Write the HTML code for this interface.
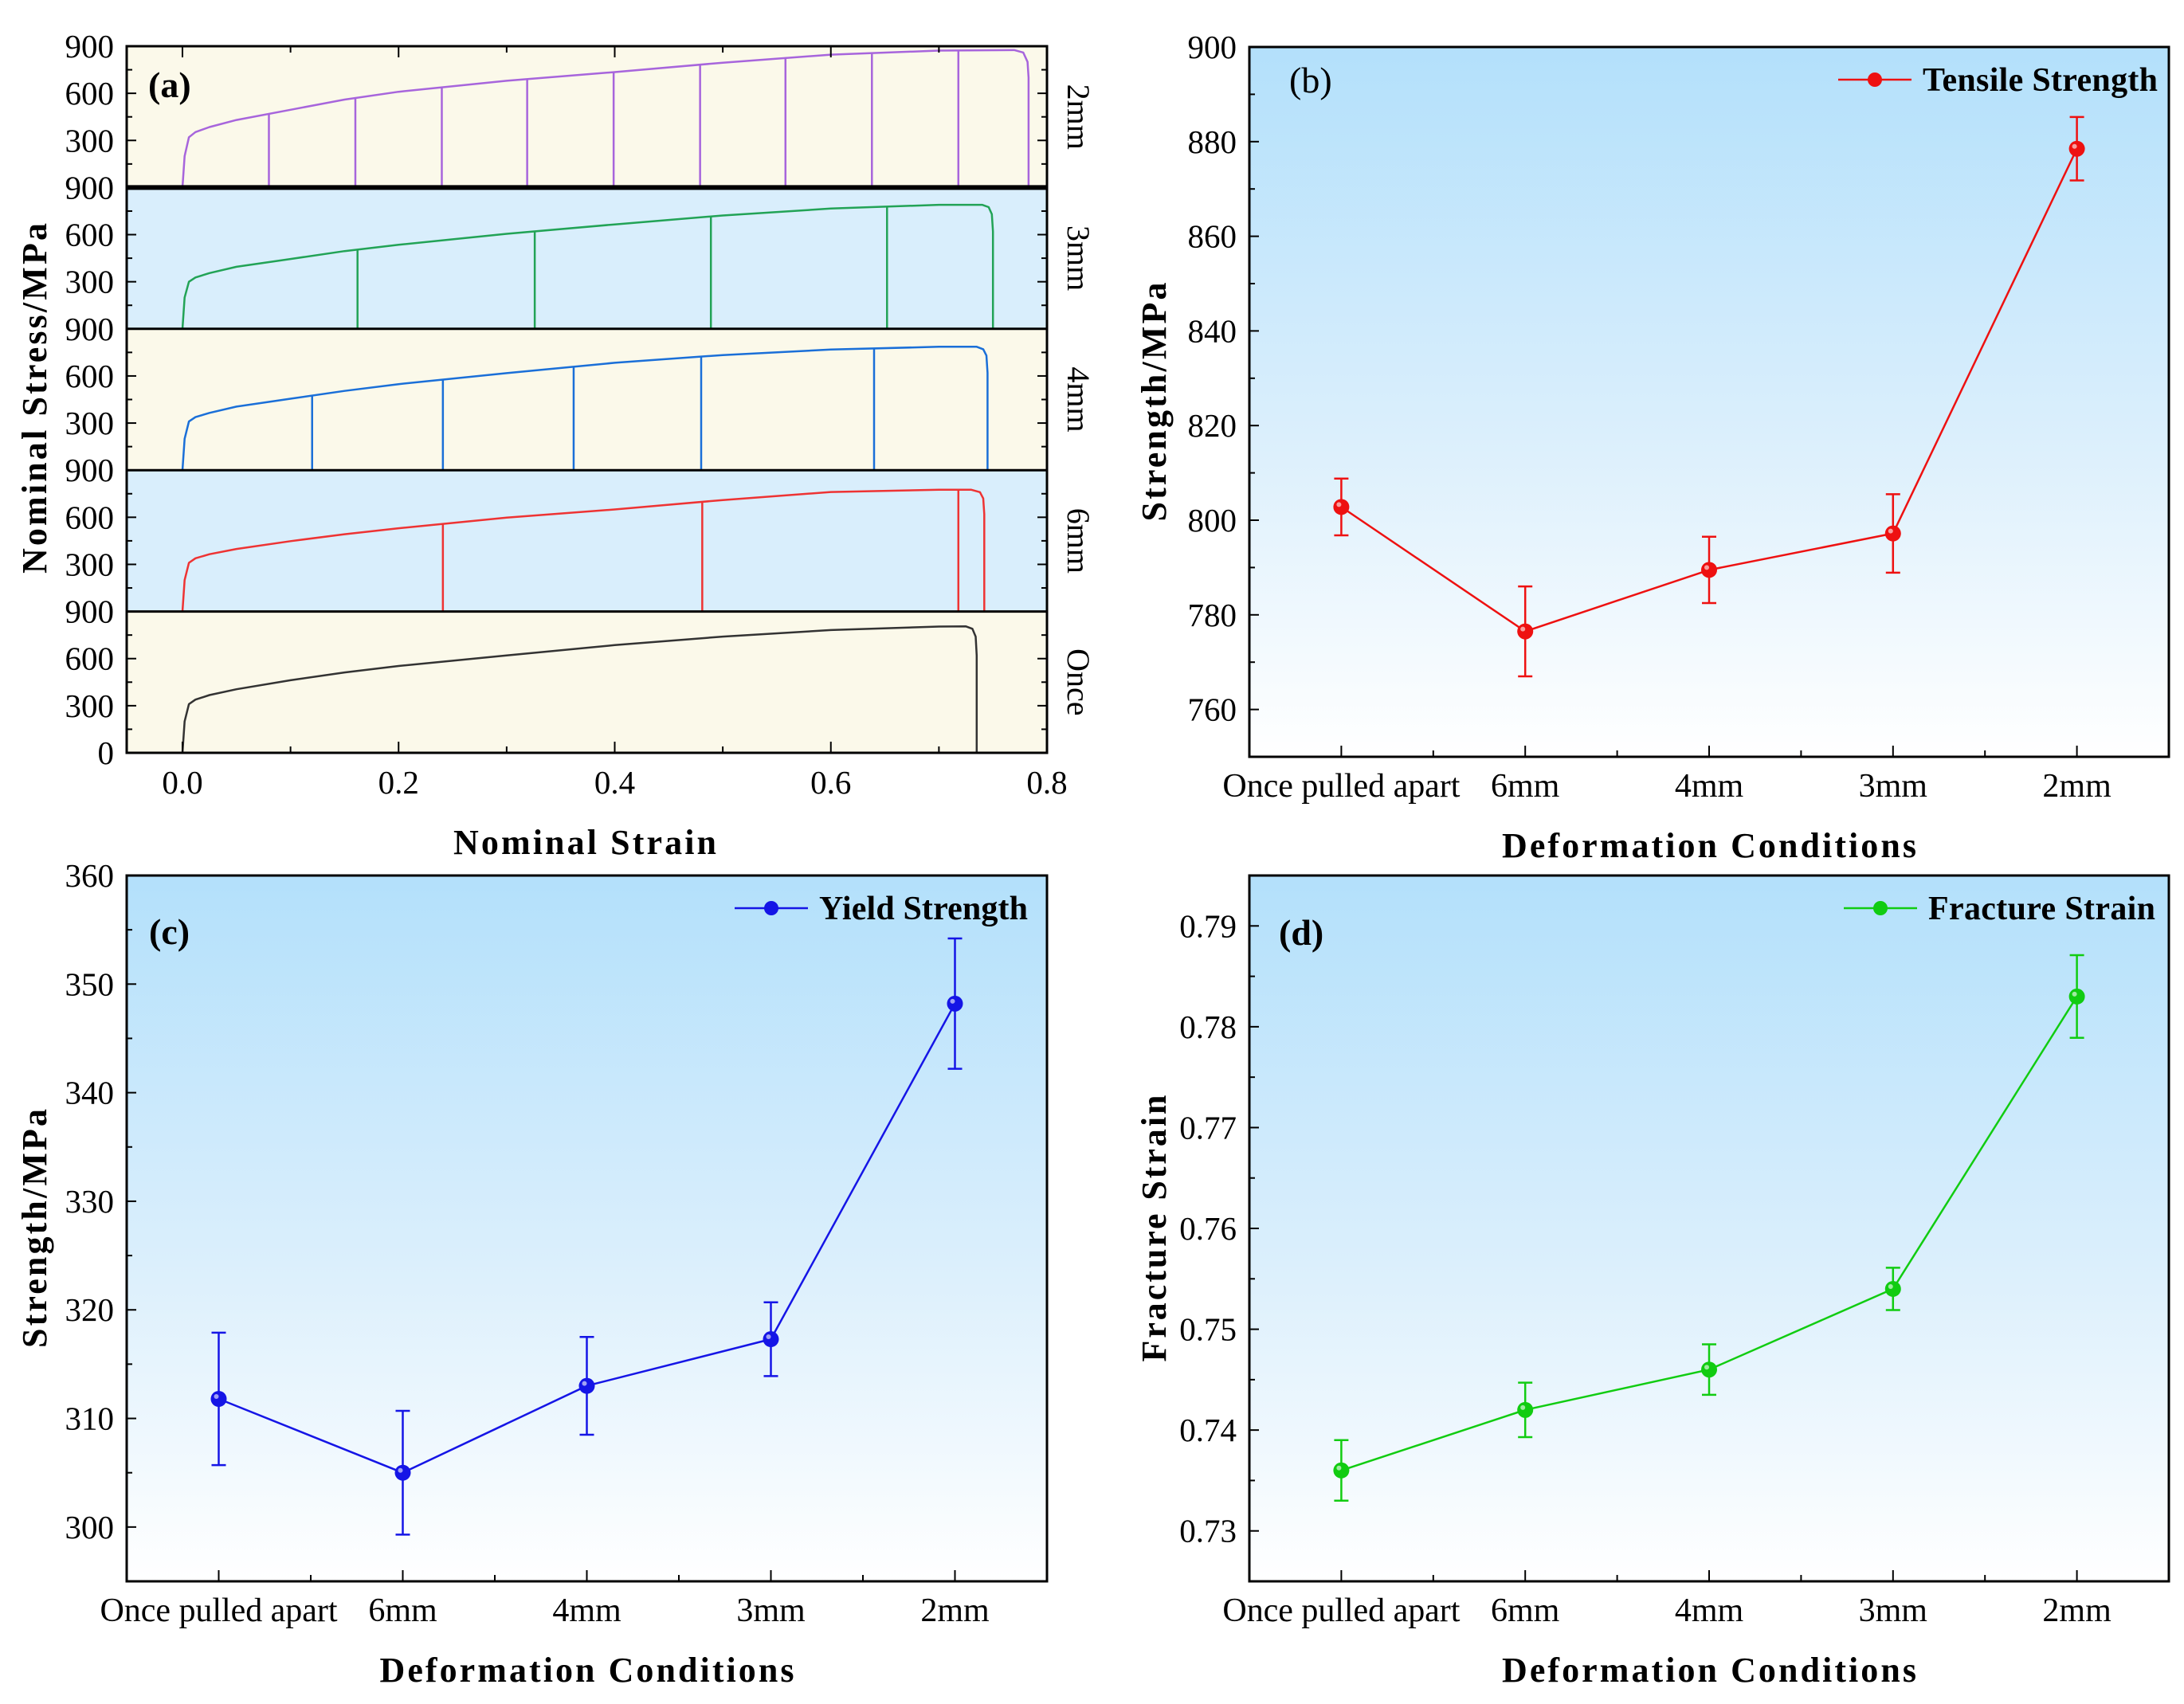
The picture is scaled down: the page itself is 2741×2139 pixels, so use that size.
<!DOCTYPE html>
<html><head><meta charset="utf-8"><style>
html,body{margin:0;padding:0;background:#fff;}
svg{display:block;font-family:"Liberation Serif",serif;}
</style></head><body>
<svg id="fig" width="2741" height="2139" viewBox="0 0 2741 2139" xmlns="http://www.w3.org/2000/svg">
<defs>
<linearGradient id="bg" x1="0" y1="0" x2="0" y2="1">
<stop offset="0" stop-color="#b3e0fb"/><stop offset="0.55" stop-color="#dbeffc"/><stop offset="1" stop-color="#ffffff"/>
</linearGradient>
</defs>
</svg>
<script>
// ---- panel (a) data: stress-strain curves [strain, stress] ----
const curveNames = ["2mm","3mm","4mm","6mm","Once"];
const curveColors = ["#a765dc","#22a356","#1a6fd8","#ee3333","#333333"];
const curve2mm = [[0,0],[0.002,200],[0.006,320],[0.012,353],[0.025,385],[0.05,430],[0.1,495],[0.15,560],[0.2,610],[0.3,680],[0.4,735],[0.5,795],[0.6,846],[0.7,872],[0.77,875],[0.778,860],[0.782,800],[0.783,700],[0.783,0]];
const curve3mm = [[0,0],[0.002,200],[0.006,300],[0.012,327],[0.025,355],[0.05,395],[0.1,445],[0.15,495],[0.2,535],[0.3,605],[0.4,665],[0.5,722],[0.6,766],[0.7,790],[0.74,790],[0.746,775],[0.749,730],[0.75,620],[0.75,0]];
const curve4mm = [[0,0],[0.002,200],[0.006,310],[0.012,338],[0.025,365],[0.05,405],[0.1,455],[0.15,505],[0.2,548],[0.3,618],[0.4,684],[0.5,733],[0.6,768],[0.7,786],[0.735,786],[0.741,770],[0.744,730],[0.745,620],[0.745,0]];
const curve6mm = [[0,0],[0.002,200],[0.006,310],[0.012,339],[0.025,365],[0.05,398],[0.1,448],[0.15,492],[0.2,530],[0.3,598],[0.4,650],[0.5,710],[0.6,761],[0.7,775],[0.73,775],[0.738,760],[0.741,720],[0.742,620],[0.742,0]];
const curveOnce = [[0,0],[0.002,200],[0.006,310],[0.012,339],[0.025,368],[0.05,405],[0.1,462],[0.15,512],[0.2,553],[0.3,620],[0.4,686],[0.5,740],[0.6,782],[0.7,804],[0.725,805],[0.731,790],[0.734,740],[0.735,620],[0.735,0]];
const unload2mm = [0.08,0.16,0.24,0.319,0.399,0.479,0.558,0.638,0.718];
const unload3mm = [0.162,0.326,0.489,0.652];
const unload4mm = [0.12,0.241,0.362,0.48,0.64];
const unload6mm = [0.241,0.481,0.718];
const unloadOnce = [];
const strainTicks = [0,0.2,0.4,0.6,0.8];
const stressTicks = [0,300,600,900];
// ---- panels (b)(c)(d) data ----
const categories = ["Once pulled apart","6mm","4mm","3mm","2mm"];
const tensile = [802.8,776.5,789.5,797.2,878.5];
const tensileErr = [6,9.5,7,8.3,6.7];
const yieldStr = [311.8,305,313,317.3,348.2];
const yieldErr = [6.1,5.7,4.5,3.4,6];
const fracture = [0.736,0.742,0.746,0.754,0.783];
const fractureErr = [0.003,0.0027,0.0025,0.0021,0.0041];
const tensileTicks = [760,780,800,820,840,860,880,900];
const yieldTicks = [300,310,320,330,340,350,360];
const fractureTicks = [0.73,0.74,0.75,0.76,0.77,0.78,0.79];

const NS="http://www.w3.org/2000/svg";
const svg=document.getElementById('fig');
function mk(tag,attrs,parent,txt){const e=document.createElementNS(NS,tag);for(const k in attrs)e.setAttribute(k,attrs[k]);if(txt!==undefined)e.textContent=txt;(parent||svg).appendChild(e);return e;}

// ---------- Panel (a) ----------
const A={x0:159,x1:1314,y0:58,y1:945};
const ga=mk('g',{});


const xa=v=>A.x0+(v+0.0516)/(0.8516)*(A.x1-A.x0);
const subH=(A.y1-A.y0)/5;
const curves=[curve2mm,curve3mm,curve4mm,curve6mm,curveOnce];
const unloads=[unload2mm,unload3mm,unload4mm,unload6mm,unloadOnce];
const bgs=["#fbf9ea","#d9eefc","#fbf9ea","#d9eefc","#fbf9ea"];
function interp(c,s){for(let i=1;i<c.length;i++){if(c[i][0]>=s&&c[i][0]>c[i-1][0]){const t=(s-c[i-1][0])/(c[i][0]-c[i-1][0]);return c[i-1][1]+t*(c[i][1]-c[i-1][1]);}}return 0;}
for(let k=0;k<5;k++){
  const top=A.y0+k*subH, bot=top+subH;
  const ya=v=>bot-v/900*subH;
  const sg=mk('g',{},ga);
  
  
  mk('rect',{x:A.x0,y:top,width:A.x1-A.x0,height:subH,fill:bgs[k]},sg);
  const c=curves[k];
  let d=c.map((p,i)=>(i?'L':'M')+xa(p[0]).toFixed(1)+','+ya(p[1]).toFixed(1)).join(' ');
  const pl=mk('path',{d:d,fill:'none',stroke:curveColors[k],'stroke-width':2.5,'stroke-linejoin':'round'},sg);
  
  
  unloads[k].forEach(s=>{
    const ln=mk('line',{x1:xa(s),x2:xa(s),y1:ya(interp(c,s)),y2:bot,stroke:curveColors[k],'stroke-width':2.5},sg);
    
    
  });
  for(let v=150;v<900;v+=150){const L=(v%300===0)?12:7;
    mk('line',{x1:A.x0,x2:A.x0+L,y1:ya(v),y2:ya(v),stroke:'#000','stroke-width':2},sg);
    mk('line',{x1:A.x1,x2:A.x1-L,y1:ya(v),y2:ya(v),stroke:'#000','stroke-width':2},sg);}
  stressTicks.forEach(v=>{
    if(v===0&&k<4)return;
    const t=mk('text',{x:143,y:ya(v)+14,'text-anchor':'end','font-size':41},sg,String(v));
    
    
  });
  const cy=(top+bot)/2;
  const rl=mk('text',{x:1340,y:cy,'text-anchor':'middle','font-size':40,transform:`rotate(90 1340 ${cy})`},sg,curveNames[k]);
  
  
  mk('line',{x1:A.x0,x2:A.x1,y1:top,y2:top,stroke:'#000','stroke-width':k===1?6:3},sg);
}
mk('rect',{x:A.x0,y:A.y0,width:A.x1-A.x0,height:A.y1-A.y0,fill:'none',stroke:'#000','stroke-width':3},ga);
for(let v=0;v<=0.8001;v+=0.1){const L=(Math.round(v*10)%2===0)?14:8;
  mk('line',{x1:xa(v),x2:xa(v),y1:A.y1,y2:A.y1-L,stroke:'#000','stroke-width':2},ga);
  mk('line',{x1:xa(v),x2:xa(v),y1:A.y0,y2:A.y0+L,stroke:'#000','stroke-width':2},ga);}
strainTicks.forEach(v=>{
  const t=mk('text',{x:xa(v),y:996,'text-anchor':'middle','font-size':41},ga,v.toFixed(1));
  
  
});
let t;
t=mk('text',{x:734,y:1072,'text-anchor':'middle','font-size':44,'font-weight':'bold',textLength:330},ga,'Nominal Strain');


t=mk('text',{x:58,y:500,'text-anchor':'middle','font-size':44,'font-weight':'bold',textLength:440,transform:'rotate(-90 58 500)'},ga,'Nominal Stress/MPa');


t=mk('text',{x:186,y:122,'font-size':46,'font-weight':'bold'},ga,'(a)');



// ---------- Category panels ----------
function catPanel(o){
  const g=mk('g',{});
  
  
  const X=i=>o.x0+(i+0.5)/5*(o.x1-o.x0);
  const Y=v=>o.y1-(v-o.lo)/(o.hi-o.lo)*(o.y1-o.y0);
  mk('rect',{x:o.x0,y:o.y0,width:o.x1-o.x0,height:o.y1-o.y0,fill:'url(#bg)',stroke:'#000','stroke-width':3},g);
  o.ticks.forEach((v)=>{
    mk('line',{x1:o.x0,x2:o.x0+12,y1:Y(v),y2:Y(v),stroke:'#000','stroke-width':2},g);
    const m=v-o.step/2; if(m>o.lo) mk('line',{x1:o.x0,x2:o.x0+7,y1:Y(m),y2:Y(m),stroke:'#000','stroke-width':2},g);
    const tl=mk('text',{x:o.x0-16,y:Y(v)+14,'text-anchor':'end','font-size':41},g,o.fmt(v));
    
    
  });
  categories.forEach((c,i)=>{
    mk('line',{x1:X(i),x2:X(i),y1:o.y1,y2:o.y1-14,stroke:'#000','stroke-width':2},g);
    if(i<4) mk('line',{x1:X(i+0.5),x2:X(i+0.5),y1:o.y1,y2:o.y1-8,stroke:'#000','stroke-width':2},g);
    const attrs={x:X(i),y:o.y1+50,'text-anchor':'middle','font-size':42};
    if(i===0) attrs.textLength=298;
    const tl=mk('text',attrs,g,c);
    
    
  });
  const d=o.vals.map((v,i)=>(i?'L':'M')+X(i).toFixed(1)+','+Y(v).toFixed(1)).join(' ');
  const ln=mk('path',{d:d,fill:'none',stroke:o.color,'stroke-width':2.5},g);
  
  
  o.vals.forEach((v,i)=>{
    const e=o.err[i];
    const eb=mk('path',{d:`M${X(i)},${Y(v+e)}L${X(i)},${Y(v-e)}M${X(i)-9},${Y(v+e)}L${X(i)+9},${Y(v+e)}M${X(i)-9},${Y(v-e)}L${X(i)+9},${Y(v-e)}`,stroke:o.color,'stroke-width':2.5,fill:'none'},g);
    
    
    const pt=mk('circle',{cx:X(i),cy:Y(v),r:10,fill:o.color},g);
    
    
    mk('circle',{cx:X(i)-3,cy:Y(v)-3,r:3,fill:'#fff',opacity:0.6},g);
  });
  const lg=mk('g',{},g);
  
  
  mk('line',{x1:o.lx,x2:o.lx+92,y1:o.ly,y2:o.ly,stroke:o.color,'stroke-width':2.5},lg);
  mk('circle',{cx:o.lx+46,cy:o.ly,r:9,fill:o.color},lg);
  mk('text',{x:o.lx+106,y:o.ly+14,'font-size':42,'font-weight':'bold',textLength:o.lw},lg,o.label);
  let tt=mk('text',{x:o.px,y:o.py,'font-size':46,'font-weight':o.pb?'bold':'normal'},g,o.panel);
  
  
  const cx=(o.x0+o.x1)/2;
  tt=mk('text',{x:cx,y:o.y1+126,'text-anchor':'middle','font-size':44,'font-weight':'bold',textLength:520},g,'Deformation Conditions');
  
  
  const cy=(o.y0+o.y1)/2;
  tt=mk('text',{x:o.tx,y:cy,'text-anchor':'middle','font-size':44,'font-weight':'bold',textLength:o.tl,transform:`rotate(-90 ${o.tx} ${cy})`},g,o.title);
  
  
}
catPanel({name:'panel-b',x0:1568,x1:2722,y0:59,y1:950,lo:750,hi:900,step:20,ticks:tensileTicks,fmt:v=>String(v),vals:tensile,err:tensileErr,color:'#ee1111',lx:2307,ly:100,lw:295,label:'Tensile Strength',panel:'(b)',px:1618,py:116,pb:false,tx:1463,tl:300,title:'Strength/MPa'});
catPanel({name:'panel-c',x0:159,x1:1314,y0:1099,y1:1985,lo:295,hi:360,step:10,ticks:yieldTicks,fmt:v=>String(v),vals:yieldStr,err:yieldErr,color:'#1515e6',lx:922,ly:1140,lw:262,label:'Yield Strength',panel:'(c)',px:187,py:1185,pb:true,tx:58,tl:300,title:'Strength/MPa'});
catPanel({name:'panel-d',x0:1568,x1:2722,y0:1099,y1:1985,lo:0.725,hi:0.795,step:0.01,ticks:fractureTicks,fmt:v=>v.toFixed(2),vals:fracture,err:fractureErr,color:'#11cc11',lx:2314,ly:1140,lw:285,label:'Fracture Strain',panel:'(d)',px:1605,py:1186,pb:true,tx:1463,tl:335,title:'Fracture Strain'});
</script>
</body></html>
